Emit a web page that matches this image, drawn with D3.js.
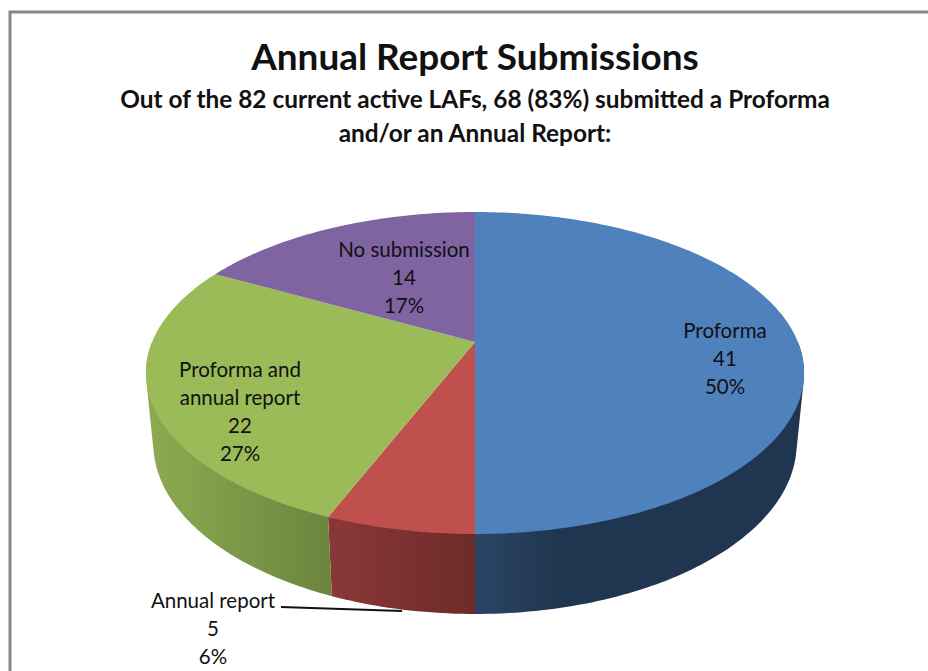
<!DOCTYPE html>
<html>
<head>
<meta charset="utf-8">
<script src="https://cdn.jsdelivr.net/npm/d3@7"></script>
<style>
html,body{margin:0;padding:0;background:#fff;}
svg{display:block;}
text{font-family:Lato,"Open Sans",sans-serif;fill:#111;text-anchor:middle;}
</style>
</head>
<body>
<svg id="chart" width="928" height="671"></svg>
<script>
const categories = ["Proforma","Annual report","Proforma and annual report","No submission"];
const values = [41,5,22,14];
const percents = ["50%","6%","27%","17%"];
const labelLines = [["Proforma"],["Annual report"],["Proforma and","annual report"],["No submission"]];
const topColors = ["#4f81bd","#c0504d","#9bbb59","#8064a2"];
const wallLeftColors = ["#2b4565","#8a3837","#8dab51","#5f4a7a"];
const wallRightColors = ["#203650","#6c2b2a","#6b853e","#4c3b62"];
const titleText = "Annual Report Submissions";
const subtitleLines = ["Out of the 82 current active LAFs, 68 (83%) submitted a Proforma","and/or an Annual Report:"];

const svg = d3.select("#chart");
const pieLayout = d3.pie().value(d => d).sort(null);
const arcs = pieLayout(values);

// Perspective projection of the pie's disc (u right, v away, z down)
const cam = {x0:475, y0:342, A:322.9, B:155, C:70.6, k:0.1925, m:0.022};
function project(angle, z){
  const u = Math.sin(angle), v = Math.cos(angle);
  const w = 1 + cam.k*v + cam.m*z;
  return [cam.x0 + cam.A*u/w, cam.y0 + (-cam.B*v + cam.C*z)/w];
}
const line = d3.line();
const step = Math.PI/180;
function sweep(a0, a1, z){
  const n = Math.max(1, Math.ceil(Math.abs(a1-a0)/step));
  return d3.range(n+1).map(i => project(a0 + (a1-a0)*i/n, z));
}

// Border frame
svg.append("path").attr("d","M10,671V12H928").attr("fill","none").attr("stroke","#868686").attr("stroke-width",3);

// Walls: the hull of each slice's top and bottom rims gives the true silhouette
const defs = svg.append("defs");
arcs.forEach((d,i)=>{
  const a0 = Math.max(d.startAngle, Math.PI/2);
  const a1 = Math.min(d.endAngle, 3*Math.PI/2);
  if (a1 <= a0) return;
  const pts = d3.polygonHull(sweep(a0,a1,0).concat(sweep(a0,a1,1)));
  const xs = d3.extent(pts, p=>p[0]);
  const g = defs.append("linearGradient").attr("id","wall"+i)
    .attr("gradientUnits","userSpaceOnUse")
    .attr("x1",xs[0]).attr("x2",xs[1]).attr("y1",0).attr("y2",0);
  g.append("stop").attr("offset","0").attr("stop-color",wallLeftColors[i]);
  if(i===0) g.append("stop").attr("offset","0.25").attr("stop-color",wallRightColors[i]);
  g.append("stop").attr("offset","1").attr("stop-color",wallRightColors[i]);
  svg.append("path").attr("d",line(pts)+"Z").attr("fill",`url(#wall${i})`);
});

// Top faces
arcs.forEach((d,i)=>{
  const pts = [[cam.x0,cam.y0]].concat(sweep(d.startAngle,d.endAngle,0));
  svg.append("path").attr("d",line(pts)+"Z").attr("fill",topColors[i]);
});

// Leader line for the small slice
const leaderX = d3.scaleLinear().domain([0,1]).range([281,402]);
const leaderY = d3.scaleLinear().domain([0,1]).range([607,611]);
svg.append("line").attr("x1",leaderX(0)).attr("y1",leaderY(0)).attr("x2",leaderX(1)).attr("y2",leaderY(1))
  .attr("stroke","#111").attr("stroke-width",2);

// Titles
svg.append("text").attr("x",475).attr("y",70).attr("font-size",36.9).attr("font-weight",700).text(titleText);
subtitleLines.forEach((t,i)=>{
  svg.append("text").attr("x",475).attr("y",108+i*34).attr("font-size",24.4).attr("font-weight",700).text(t);
});

// Data labels
const labelAnchors = [[725,338],[213,608],[240,377],[404,257]];
const lineGap = 28;
categories.forEach((c,i)=>{
  const lines = labelLines[i].concat([String(values[i]),percents[i]]);
  lines.forEach((t,j)=>{
    svg.append("text").attr("x",labelAnchors[i][0]).attr("y",labelAnchors[i][1]+j*lineGap)
      .attr("font-size",20.5).text(t);
  });
});
</script>
</body>
</html>
